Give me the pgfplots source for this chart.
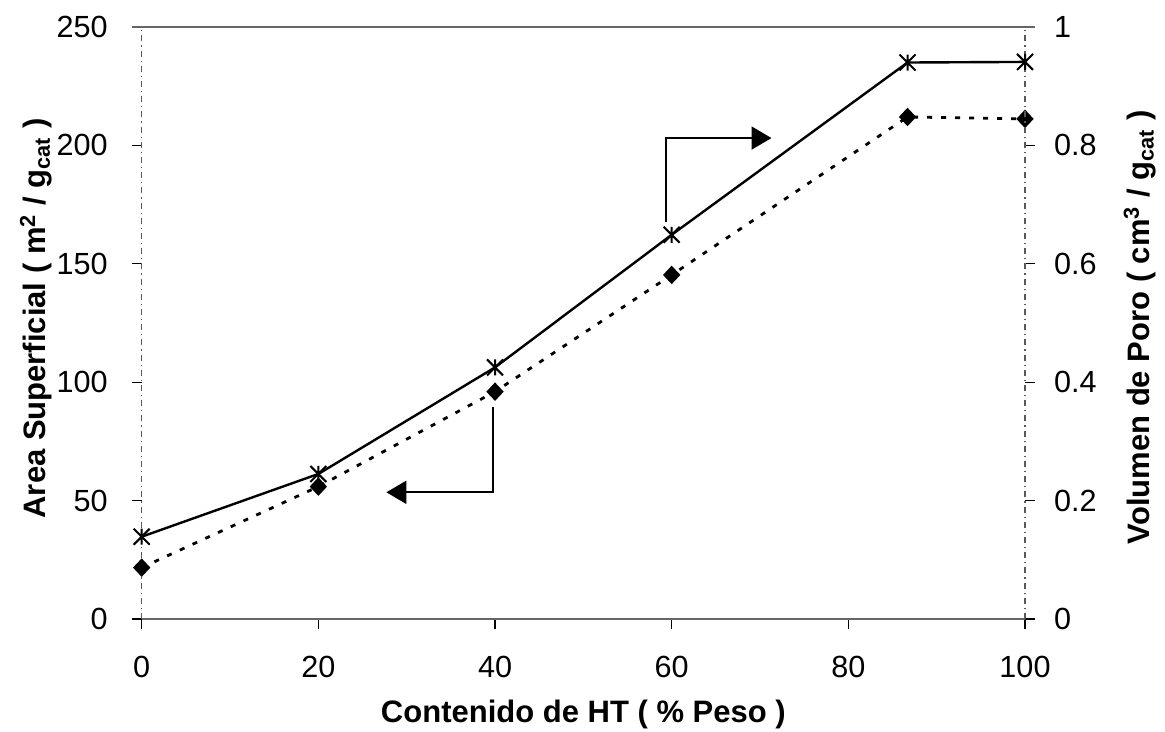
\documentclass[border=0pt]{standalone}
\usepackage{fontspec}
\setmainfont{Liberation Sans}
\usepackage{pgfplots}
\pgfplotsset{compat=1.18}
\usetikzlibrary{arrows.meta}
\pgfdeclareplotmark{xast}{%
 \pgfpathmoveto{\pgfqpoint{-\pgfplotmarksize}{-\pgfplotmarksize}}%
 \pgfpathlineto{\pgfqpoint{\pgfplotmarksize}{\pgfplotmarksize}}%
 \pgfpathmoveto{\pgfqpoint{-\pgfplotmarksize}{\pgfplotmarksize}}%
 \pgfpathlineto{\pgfqpoint{\pgfplotmarksize}{-\pgfplotmarksize}}%
 \pgfpathmoveto{\pgfqpoint{0pt}{-\pgfplotmarksize}}%
 \pgfpathlineto{\pgfqpoint{0pt}{\pgfplotmarksize}}%
 \pgfusepathqstroke}
\newcommand\tickfont{\fontsize{15.3}{18}\selectfont}
\newcommand\labfont{\fontsize{15.5}{18}\selectfont\bfseries}
\pgfplotsset{common/.style={scale only axis, width=441.65pt, height=296pt,
  xmin=0, xmax=100, tick align=outside, major tick length=5pt,
  tick style={black, line width=0.6pt},
  ticklabel style={font=\tickfont},
  /pgf/number format/assume math mode=true}}
\begin{document}
\begin{tikzpicture}
\begin{axis}[common, name=ax, ymin=0, ymax=250,
  axis x line*=bottom, axis y line*=left,
  xtick={0,20,40,60,80,100}, ytick={0,50,100,150,200,250},
  xticklabel style={yshift=-10pt},
  yticklabel style={xshift=-8.5pt},
  x axis line style={black!60, line width=0.7pt, -},
  y axis line style={black!65, line width=0.6pt, dash dot, -},
  xlabel={Contenido de HT ( \% Peso )},
  ylabel={Area Superficial ( m\textsuperscript{2} / g\textsubscript{cat} )},
  every axis x label/.style={at={(axis description cs:0.5,-0.162)}, anchor=center, font=\labfont},
  every axis y label/.style={at={(axis description cs:-0.1197,0.508)}, anchor=center, rotate=90, font=\labfont},
  clip=false]
\addplot[black, line width=1.4pt, dash pattern=on 2.5pt off 4.5pt,
  mark=diamond*, mark size=3.6pt, mark options={solid, fill=black, xscale=1.25}]
  coordinates {(0,21.7) (20,55.9) (40,96.0) (60,145.3) (86.7,212.0) (100,211.2)};
\draw[black, line width=1pt, -{Triangle[length=10pt,width=11.5pt]}]
  (axis cs:59.3,167.5) -- (axis cs:59.3,203.1) -- (axis cs:71.3,203.1);
\draw[black, line width=1pt, -{Triangle[length=10pt,width=11.5pt]}]
  (axis cs:39.8,89.5) -- (axis cs:39.8,53.5) -- (axis cs:27.7,53.5);
\end{axis}
\begin{axis}[common, ymin=0, ymax=1,
  axis y line*=right, axis x line=none,
  ytick={0,0.2,0.4,0.6,0.8,1},
  yticklabel style={/pgf/number format/fixed, /pgf/number format/precision=1, xshift=6pt},
  y axis line style={black!65, line width=0.6pt, dash dot, -},
  ylabel={Volumen de Poro ( cm\textsuperscript{3} / g\textsubscript{cat} )},
  every axis y label/.style={at={(axis description cs:1.130,0.493)}, anchor=center, rotate=90, font=\labfont}]
\addplot[black, line width=1.2pt, mark=xast, mark size=4pt, mark options={solid, line width=1pt}]
  coordinates {(0,0.139) (20,0.245) (40,0.425) (60,0.649) (86.7,0.940) (100,0.941)};
\end{axis}
\draw[black!60, line width=0.7pt] ([xshift=-5pt]ax.north west) -- ([xshift=5pt]ax.north east);
\pgfresetboundingbox
\path ([xshift=-70.85pt,yshift=-56.5pt]ax.south west) rectangle ([xshift=70pt,yshift=13.5pt]ax.north east);
\end{tikzpicture}
\end{document}
